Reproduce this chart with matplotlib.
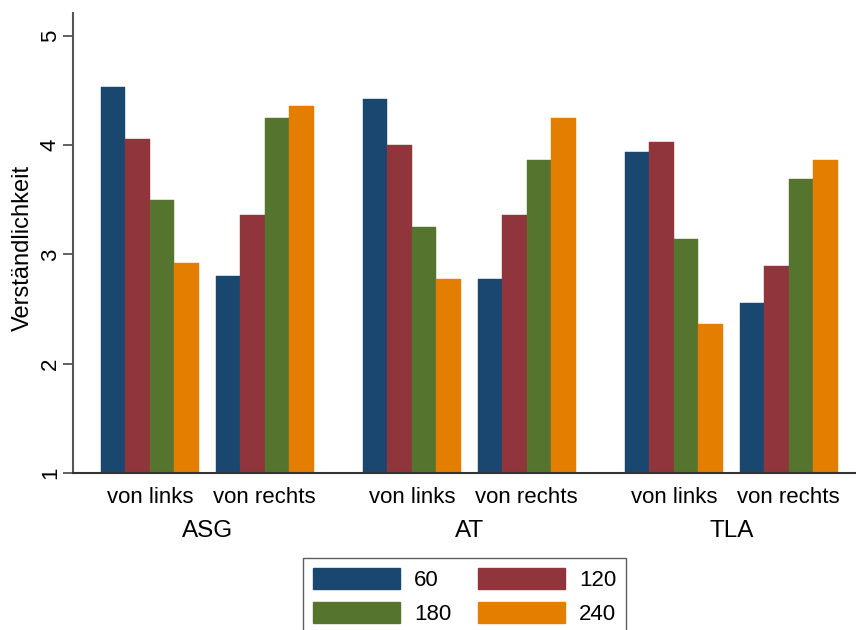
import matplotlib
matplotlib.use("Agg")
import matplotlib.pyplot as plt
import matplotlib.transforms as mtransforms
from matplotlib.patches import Patch

plt.rcParams['font.family'] = ['Liberation Sans', 'DejaVu Sans']

# Data
groups = ["ASG", "AT", "TLA"]
sides = ["von links", "von rechts"]
series_names = ["60", "120", "180", "240"]
# order: ASG links, ASG rechts, AT links, AT rechts, TLA links, TLA rechts
v60 = [4.53, 2.80, 4.42, 2.77, 3.94, 2.55]
v120 = [4.06, 3.36, 4.00, 3.36, 4.03, 2.89]
v180 = [3.50, 4.25, 3.25, 3.86, 3.14, 3.69]
v240 = [2.92, 4.36, 2.77, 4.25, 2.36, 3.86]
series_values = [v60, v120, v180, v240]
colors = ["#1a476f", "#90353b", "#55752f", "#e37e00"]

# layout of bar clusters (in bar-width units)
side_pitch = 4.70
group_pitch = 10.72
base = 1.0

fig = plt.figure(figsize=(8.56, 6.30), dpi=100)
ax = fig.add_axes([0.085, 0.2497, 0.915, 0.7295])

cluster_starts = []
for g in range(len(groups)):
    for s in range(len(sides)):
        cluster_starts.append(g * group_pitch + s * side_pitch)

for k, (vals, col) in enumerate(zip(series_values, colors)):
    xs = [c + k + 0.5 for c in cluster_starts]
    heights = [v - base for v in vals]
    ax.bar(xs, heights, width=1.0, bottom=base, color=col,
           edgecolor=col, linewidth=0.3, label=series_names[k])

ax.set_xlim(-1.15, 30.89)
ax.set_ylim(1, 5.21)

# y axis
ax.set_yticks([1, 2, 3, 4, 5])
ax.tick_params(axis='y', length=7, width=1.3, color='#555555', pad=1.5,
               labelsize=16)
for lab in ax.get_yticklabels():
    lab.set_rotation(90)
    lab.set_va('center')
ax.set_ylabel("Verständlichkeit", fontsize=17)
ax.yaxis.set_label_coords(-0.050, 0.488)

# x axis: subgroup labels
centers = [c + 2.0 for c in cluster_starts]
ax.set_xticks(centers)
ax.set_xticklabels(sides * len(groups))
ax.tick_params(axis='x', length=0, pad=10, labelsize=16)

# group labels
trans = mtransforms.blended_transform_factory(ax.transData, ax.transAxes)
for g, name in enumerate(groups):
    gc = (centers[2 * g] + centers[2 * g + 1]) / 2
    ax.text(gc, -0.127, name, transform=trans, ha='center', va='center',
            fontsize=17.5)

for sp in ['top', 'right']:
    ax.spines[sp].set_visible(False)
ax.spines['left'].set_color('#555555')
ax.spines['left'].set_linewidth(1.5)
ax.spines['bottom'].set_color('#333333')
ax.spines['bottom'].set_linewidth(1.5)

# legend filled row by row: (60, 120) then (180, 240)
order = [0, 2, 1, 3]
handles = [Patch(facecolor=colors[i], edgecolor=colors[i]) for i in order]
labels = [series_names[i] for i in order]
leg = fig.legend(handles, labels, ncol=2, loc='upper left',
                 bbox_to_anchor=(303 / 856, 1 - 558 / 630),
                 fontsize=16, frameon=True, fancybox=False,
                 handlelength=3.9, handleheight=1.05, handletextpad=0.65,
                 columnspacing=1.2, labelspacing=0.5, borderpad=0.45,
                 borderaxespad=0)
leg.get_frame().set_edgecolor('#333333')
leg.get_frame().set_linewidth(1.0)

fig.savefig("out.png", dpi=100, facecolor='white')
